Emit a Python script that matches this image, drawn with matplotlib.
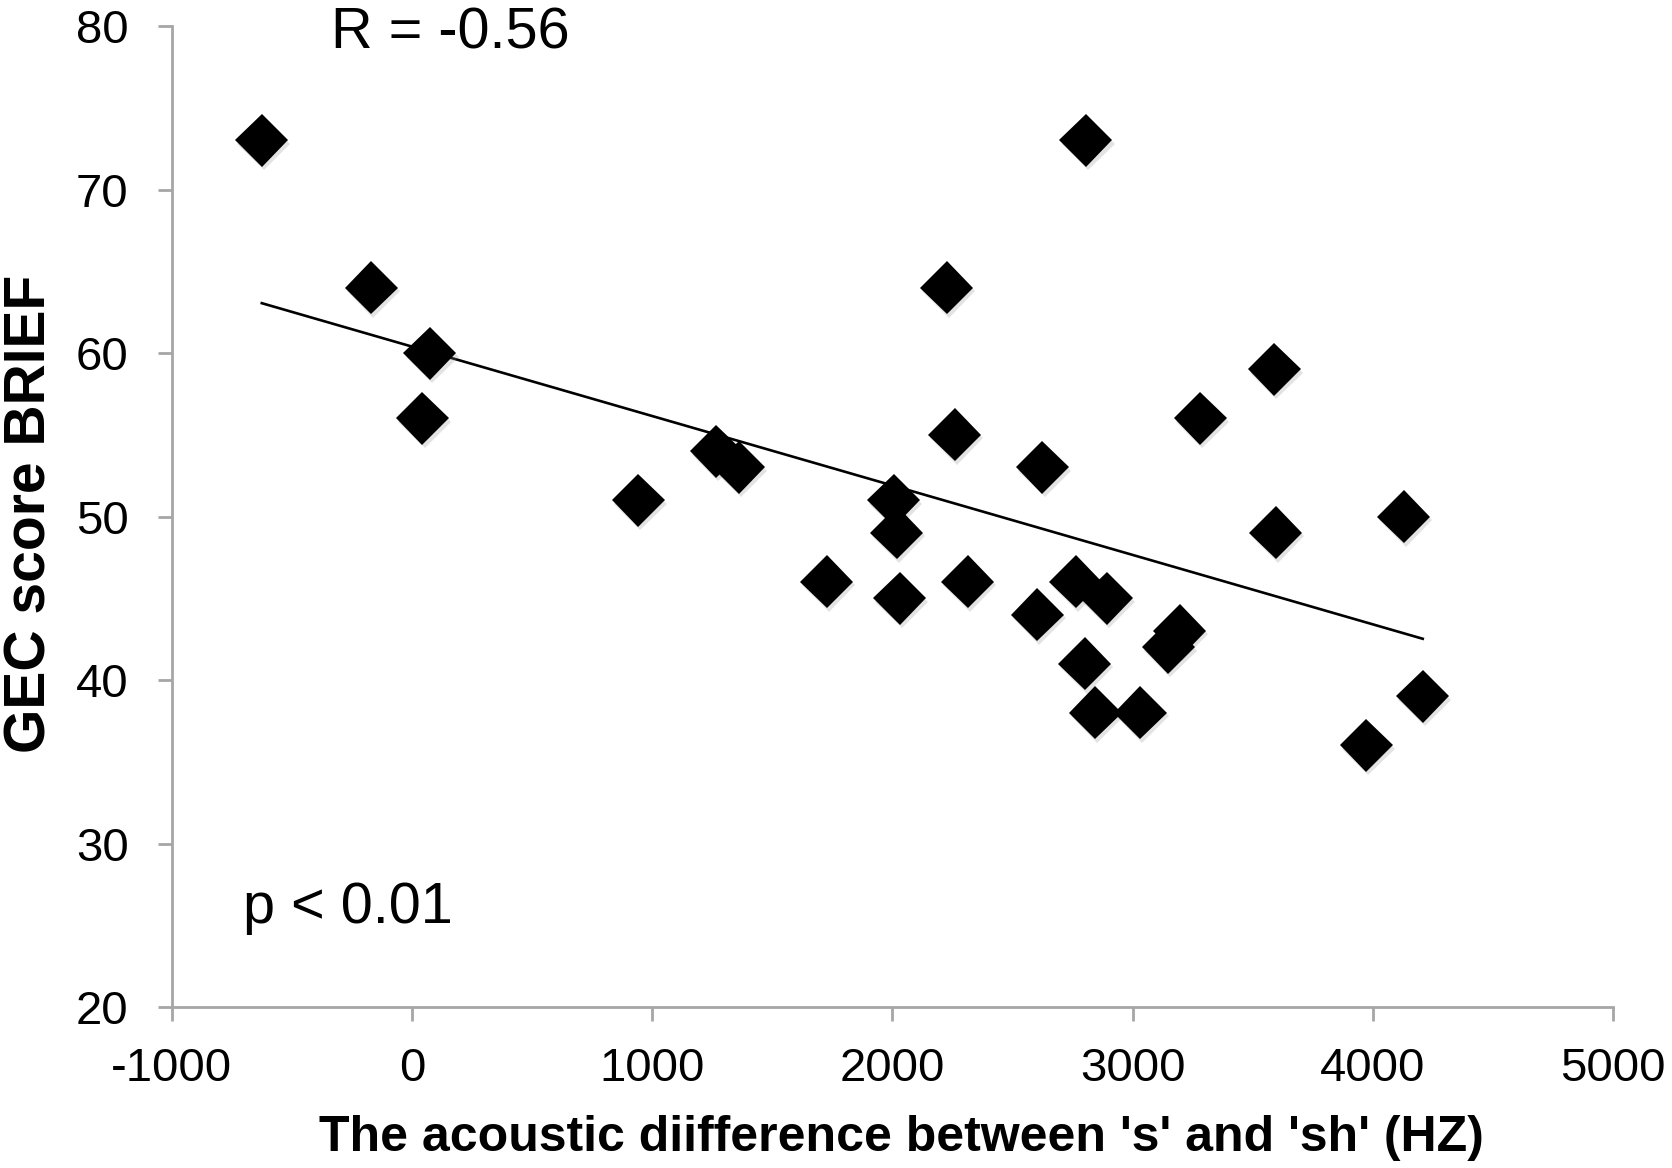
import numpy as np
import matplotlib
matplotlib.use("Agg")
import matplotlib.pyplot as plt
import matplotlib.patheffects as pe

plt.rcParams['font.family'] = ['Liberation Sans', 'DejaVu Sans']

# data: acoustic difference (Hz) vs GEC score (BRIEF)
acoustic_diff = [-625, -170, 75, 44, 942, 1266, 1360, 1726, 2005, 2018, 2030,
                 2227, 2259, 2314, 2603, 2625, 2763, 2806, 2800, 2845, 2892,
                 3032, 3149, 3197, 3282, 3590, 3596, 3973, 4128, 4208]
gec_score = [73, 64, 60, 56, 51, 54, 53, 46, 51, 49, 45,
             64, 55, 46, 44, 53, 46, 73, 41, 38, 45,
             38, 42, 43, 56, 59, 49, 36, 50, 39]

x_ticks = [-1000, 0, 1000, 2000, 3000, 4000, 5000]
y_ticks = [20, 30, 40, 50, 60, 70, 80]
x_label = "The acoustic diifference between 's' and 'sh' (HZ)"
y_label = "GEC score BRIEF"
r_text = "R = -0.56"
p_text = "p < 0.01"

fig = plt.figure(figsize=(16.72, 11.68), dpi=100)
ax = fig.add_axes([0.1027, 0.1378, 0.8620, 0.8399])

x = np.array(acoustic_diff, dtype=float)
y = np.array(gec_score, dtype=float)

# trend line
slope, intercept = np.polyfit(x, y, 1)
xl = np.array([x.min(), x.max()])
ax.plot(xl, slope * xl + intercept, color='black', lw=1.9, zorder=2)

# markers with soft shadow
ax.plot(x, y, linestyle='none', marker='D', ms=27, color='black',
        markeredgewidth=0, zorder=3,
        path_effects=[pe.SimplePatchShadow(offset=(1.5, -2.5), shadow_rgbFace='#909090', alpha=0.25),
                      pe.Normal()])

ax.set_xlim(-1000, 5000)
ax.set_ylim(20, 80)
ax.set_xticks(x_ticks)
ax.set_yticks(y_ticks)
ax.set_xticklabels([str(t) for t in x_ticks])
ax.set_yticklabels([str(t) for t in y_ticks])

grey = '#A6A6A6'
for s in ['top', 'right']:
    ax.spines[s].set_visible(False)
for s in ['left', 'bottom']:
    ax.spines[s].set_color(grey)
    ax.spines[s].set_linewidth(2)
ax.tick_params(axis='both', direction='out', length=10, width=2, color=grey,
               labelsize=34, labelcolor='black')
ax.tick_params(axis='x', pad=19)
ax.tick_params(axis='y', pad=21)

ax.set_xlabel(x_label, fontsize=36, fontweight='bold', va='top')
ax.xaxis.set_label_coords(0.506, -0.110)
ax.set_ylabel(y_label, fontsize=41, fontweight='bold')
ax.yaxis.set_label_coords(-0.079, 0.503)

ax.text(-338, 78.65, r_text, fontsize=41.5, ha='left', va='baseline')
ax.text(-702, 25.14, p_text, fontsize=41.5, ha='left', va='baseline')

fig.savefig('out.png', dpi=100)
